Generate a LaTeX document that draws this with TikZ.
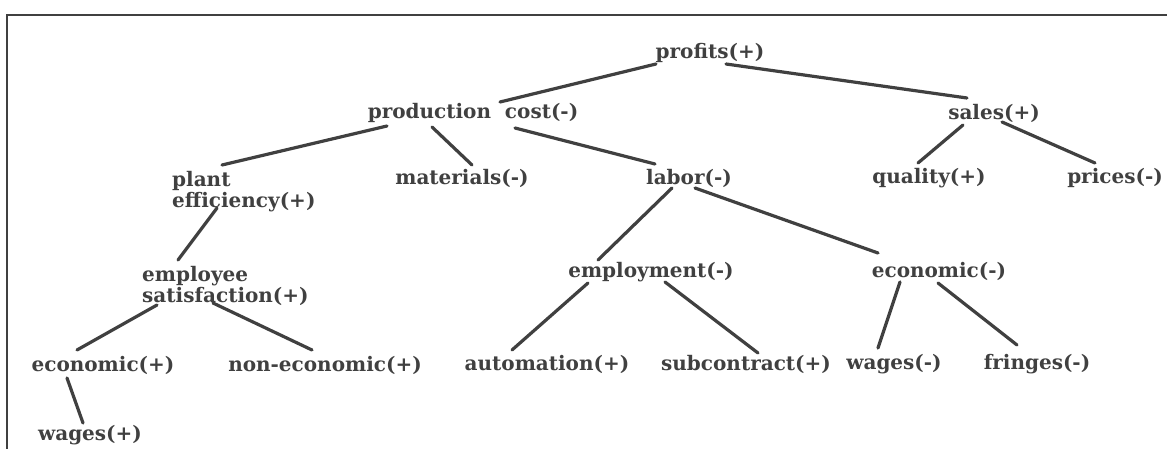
\documentclass[tikz,border=0pt]{standalone}
\usepackage{fontspec}
\setmainfont{DejaVu Serif}
\begin{document}
\begin{tikzpicture}[x=1pt,y=-1pt,
  lbl/.style={color=black!75, font=\bfseries\fontsize{20}{21}\selectfont, inner sep=0pt, anchor=center},
  twoline/.style={lbl, align=left, anchor=north west},
  link/.style={draw=black!75, line width=3.2pt, line cap=round}]
\useasboundingbox (0,0) rectangle (1167,449);
% open frame: top rule and left rule
\draw[black!75, line width=2.5pt] (1167,15) -- (7,15) -- (7,449);

% nodes
\node[lbl] (profits) at (710,53) {profits(+)};
\node[lbl] (prod) at (473,113) {production\ \ cost(-)};
\node[lbl] (sales) at (994,113) {sales(+)};
\node[twoline] (plant) at (172,171) {plant\\efficiency(+)};
\node[lbl] (mat) at (462,178) {materials(-)};
\node[lbl] (labor) at (689,178) {labor(-)};
\node[lbl] (qual) at (929,178) {quality(+)};
\node[lbl] (price) at (1115,178) {prices(-)};
\node[twoline] (empsat) at (142,266) {employee\\satisfaction(+)};
\node[lbl] (employ) at (651,272) {employment(-)};
\node[lbl] (econm) at (939,271) {economic(-)};
\node[lbl] (econp) at (103,365) {economic(+)};
\node[lbl] (noneco) at (325,365) {non-economic(+)};
\node[lbl] (auto) at (547,364) {automation(+)};
\node[lbl] (subc) at (746,364) {subcontract(+)};
\node[lbl] (wagem) at (894,364) {wages(-)};
\node[lbl] (fringe) at (1037,364) {fringes(-)};
\node[lbl] (wagep) at (90,435) {wages(+)};

% connectors
\draw[link] ([shift={(-54,11)}]profits.center) -- ([shift={(27,-11)}]prod.center);
\draw[link] ([shift={(16,11)}]profits.center) -- ([shift={(-27,-15)}]sales.center);
\draw[link] ([shift={(-86,13)}]prod.center) -- ([shift={(50,-6)}]plant.north west);
\draw[link] ([shift={(-41,14)}]prod.center) -- ([shift={(10,-13)}]mat.center);
\draw[link] ([shift={(42,15)}]prod.center) -- ([shift={(-34,-14)}]labor.center);
\draw[link] ([shift={(-31,12)}]sales.center) -- ([shift={(-11,-15)}]qual.center);
\draw[link] ([shift={(8,9)}]sales.center) -- ([shift={(-20,-15)}]price.center);
\draw[link] ([shift={(45,37)}]plant.north west) -- ([shift={(36,-6)}]empsat.north west);
\draw[link] ([shift={(-17,10)}]labor.center) -- ([shift={(-53,-12)}]employ.center);
\draw[link] ([shift={(6,10)}]labor.center) -- ([shift={(-61,-18)}]econm.center);
\draw[link] ([shift={(15,39)}]empsat.north west) -- ([shift={(-26,-15)}]econp.center);
\draw[link] ([shift={(71,37)}]empsat.north west) -- ([shift={(-13,-15)}]noneco.center);
\draw[link] ([shift={(-36,13)}]econp.center) -- ([shift={(-7,-12)}]wagep.center);
\draw[link] ([shift={(-63,11)}]employ.center) -- ([shift={(-35,-14)}]auto.center);
\draw[link] ([shift={(14,10)}]employ.center) -- ([shift={(12,-11)}]subc.center);
\draw[link] ([shift={(-39,11)}]econm.center) -- ([shift={(-16,-16)}]wagem.center);
\draw[link] ([shift={(-1,12)}]econm.center) -- ([shift={(-20,-19)}]fringe.center);
\end{tikzpicture}
\end{document}
